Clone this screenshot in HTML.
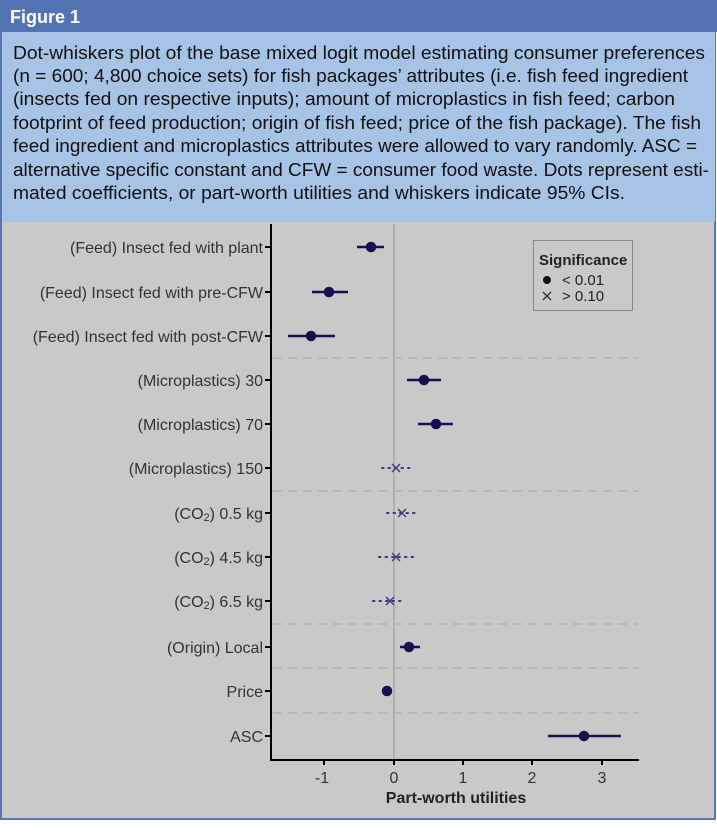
<!DOCTYPE html>
<html><head><meta charset="utf-8"><style>
html,body{margin:0;padding:0;background:#fff;}
svg{display:block;font-family:"Liberation Sans Narrow","Liberation Sans",sans-serif;}
</style></head><body>
<svg width="717" height="837" viewBox="0 0 717 837" xmlns="http://www.w3.org/2000/svg">
<rect x="0" y="0" width="717" height="837" fill="#fff"/>
<rect x="1" y="1" width="714" height="818" fill="#c9c9c9" stroke="#5577b5" stroke-width="2"/>
<rect x="0" y="0" width="717" height="32" fill="#5373b2"/>
<rect x="2" y="32" width="713" height="190" fill="#a7c3e6"/>
<text x="10" y="23" font-size="18" font-weight="bold" fill="#fff">Figure 1</text>
<g font-size="18.5" fill="#111">
<text x="13" y="59" textLength="692" lengthAdjust="spacingAndGlyphs">Dot-whiskers plot of the base mixed logit model estimating consumer preferences</text>
<text x="13" y="82" textLength="675" lengthAdjust="spacingAndGlyphs">(n = 600; 4,800 choice sets) for fish packages’ attributes (i.e. fish feed ingredient</text>
<text x="13" y="105" textLength="662" lengthAdjust="spacingAndGlyphs">(insects fed on respective inputs); amount of microplastics in fish feed; carbon</text>
<text x="13" y="129" textLength="688" lengthAdjust="spacingAndGlyphs">footprint of feed production; origin of fish feed; price of the fish package). The fish</text>
<text x="13" y="152" textLength="684" lengthAdjust="spacingAndGlyphs">feed ingredient and microplastics attributes were allowed to vary randomly. ASC =</text>
<text x="13" y="176" textLength="696" lengthAdjust="spacingAndGlyphs">alternative specific constant and CFW = consumer food waste. Dots represent esti-</text>
<text x="13" y="199" textLength="612" lengthAdjust="spacingAndGlyphs">mated coefficients, or part-worth utilities and whiskers indicate 95% CIs.</text>
</g>
<g stroke="#b4b4b4" stroke-width="1.5" stroke-dasharray="9,6">
<line x1="273" x2="638" y1="358" y2="358"/>
<line x1="273" x2="638" y1="491" y2="491"/>
<line x1="273" x2="638" y1="624" y2="624"/>
<line x1="273" x2="638" y1="668" y2="668"/>
<line x1="273" x2="638" y1="713" y2="713"/>
</g>
<line x1="394" x2="394" y1="224" y2="760" stroke="#b0b0b0" stroke-width="2"/>
<line x1="271" x2="271" y1="224" y2="761" stroke="#000" stroke-width="2"/>
<line x1="270" x2="639" y1="760" y2="760" stroke="#000" stroke-width="2"/>
<g stroke="#000" stroke-width="2">
<line x1="324" x2="324" y1="760" y2="765"/><line x1="394" x2="394" y1="760" y2="765"/>
<line x1="463" x2="463" y1="760" y2="765"/><line x1="532" x2="532" y1="760" y2="765"/>
<line x1="602" x2="602" y1="760" y2="765"/>
<line x1="265" x2="271" y1="247" y2="247"/><line x1="265" x2="271" y1="292" y2="292"/>
<line x1="265" x2="271" y1="336" y2="336"/><line x1="265" x2="271" y1="380" y2="380"/>
<line x1="265" x2="271" y1="424" y2="424"/><line x1="265" x2="271" y1="468" y2="468"/>
<line x1="265" x2="271" y1="513" y2="513"/><line x1="265" x2="271" y1="557" y2="557"/>
<line x1="265" x2="271" y1="601" y2="601"/><line x1="265" x2="271" y1="647" y2="647"/>
<line x1="265" x2="271" y1="691" y2="691"/><line x1="265" x2="271" y1="736" y2="736"/>
</g>
<g font-size="16" fill="#333" text-anchor="end">
<text x="263" y="253">(Feed) Insect fed with plant</text>
<text x="263" y="298">(Feed) Insect fed with pre-CFW</text>
<text x="263" y="342">(Feed) Insect fed with post-CFW</text>
<text x="263" y="386">(Microplastics) 30</text>
<text x="263" y="430">(Microplastics) 70</text>
<text x="263" y="474">(Microplastics) 150</text>
<text x="263" y="519">(CO<tspan font-size="11" dy="2">2</tspan><tspan dy="-2">) 0.5 kg</tspan></text>
<text x="263" y="563">(CO<tspan font-size="11" dy="2">2</tspan><tspan dy="-2">) 4.5 kg</tspan></text>
<text x="263" y="607">(CO<tspan font-size="11" dy="2">2</tspan><tspan dy="-2">) 6.5 kg</tspan></text>
<text x="263" y="653">(Origin) Local</text>
<text x="263" y="697">Price</text>
<text x="263" y="742">ASC</text>
</g>
<g font-size="16" fill="#333" text-anchor="middle">
<text x="322" y="783">-1</text><text x="394" y="783">0</text><text x="463" y="783">1</text>
<text x="532" y="783">2</text><text x="602" y="783">3</text>
<text x="456" y="803" font-weight="bold" fill="#222">Part-worth utilities</text>
</g>
<g stroke="#16104f" stroke-width="2.5" fill="#16104f">
<line x1="357" x2="384" y1="247" y2="247"/><circle cx="371" cy="247" r="4"/>
<line x1="312" x2="348" y1="292" y2="292"/><circle cx="329" cy="292" r="4"/>
<line x1="288" x2="335" y1="336" y2="336"/><circle cx="311" cy="336" r="4"/>
<line x1="407" x2="441" y1="380" y2="380"/><circle cx="424" cy="380" r="4"/>
<line x1="418" x2="453" y1="424" y2="424"/><circle cx="436" cy="424" r="4"/>
<line x1="400" x2="420" y1="647" y2="647"/><circle cx="409" cy="647" r="4"/>
<circle cx="387" cy="691" r="4"/>
<line x1="548" x2="621" y1="736" y2="736"/><circle cx="584" cy="736" r="4"/>
</g>
<g stroke="#3a3585" stroke-width="2" fill="none" stroke-dasharray="1.5,5" stroke-linecap="round">
<line x1="382" x2="410" y1="468" y2="468"/>
<line x1="387" x2="415" y1="513" y2="513"/>
<line x1="379" x2="414" y1="557" y2="557"/>
<line x1="373" x2="401" y1="601" y2="601"/>
</g>
<g stroke="#3a3585" stroke-width="1.3">
<path d="M392 464l8 8M400 464l-8 8"/>
<path d="M398 509l8 8M406 509l-8 8"/>
<path d="M392 553l8 8M400 553l-8 8"/>
<path d="M386 597l8 8M394 597l-8 8"/>
</g>
<rect x="533.5" y="240.5" width="99" height="70" fill="#c9c9c9" stroke="#888" stroke-width="1"/>
<text x="539" y="265" font-size="15" font-weight="bold" fill="#222">Significance</text>
<circle cx="547" cy="280" r="4" fill="#111"/>
<text x="562" y="285" font-size="15" fill="#222">&lt; 0.01</text>
<path d="M543 292l8 8M551 292l-8 8" stroke="#333" stroke-width="1.3"/>
<text x="562" y="301" font-size="15" fill="#222">&gt; 0.10</text>
</svg>
</body></html>
